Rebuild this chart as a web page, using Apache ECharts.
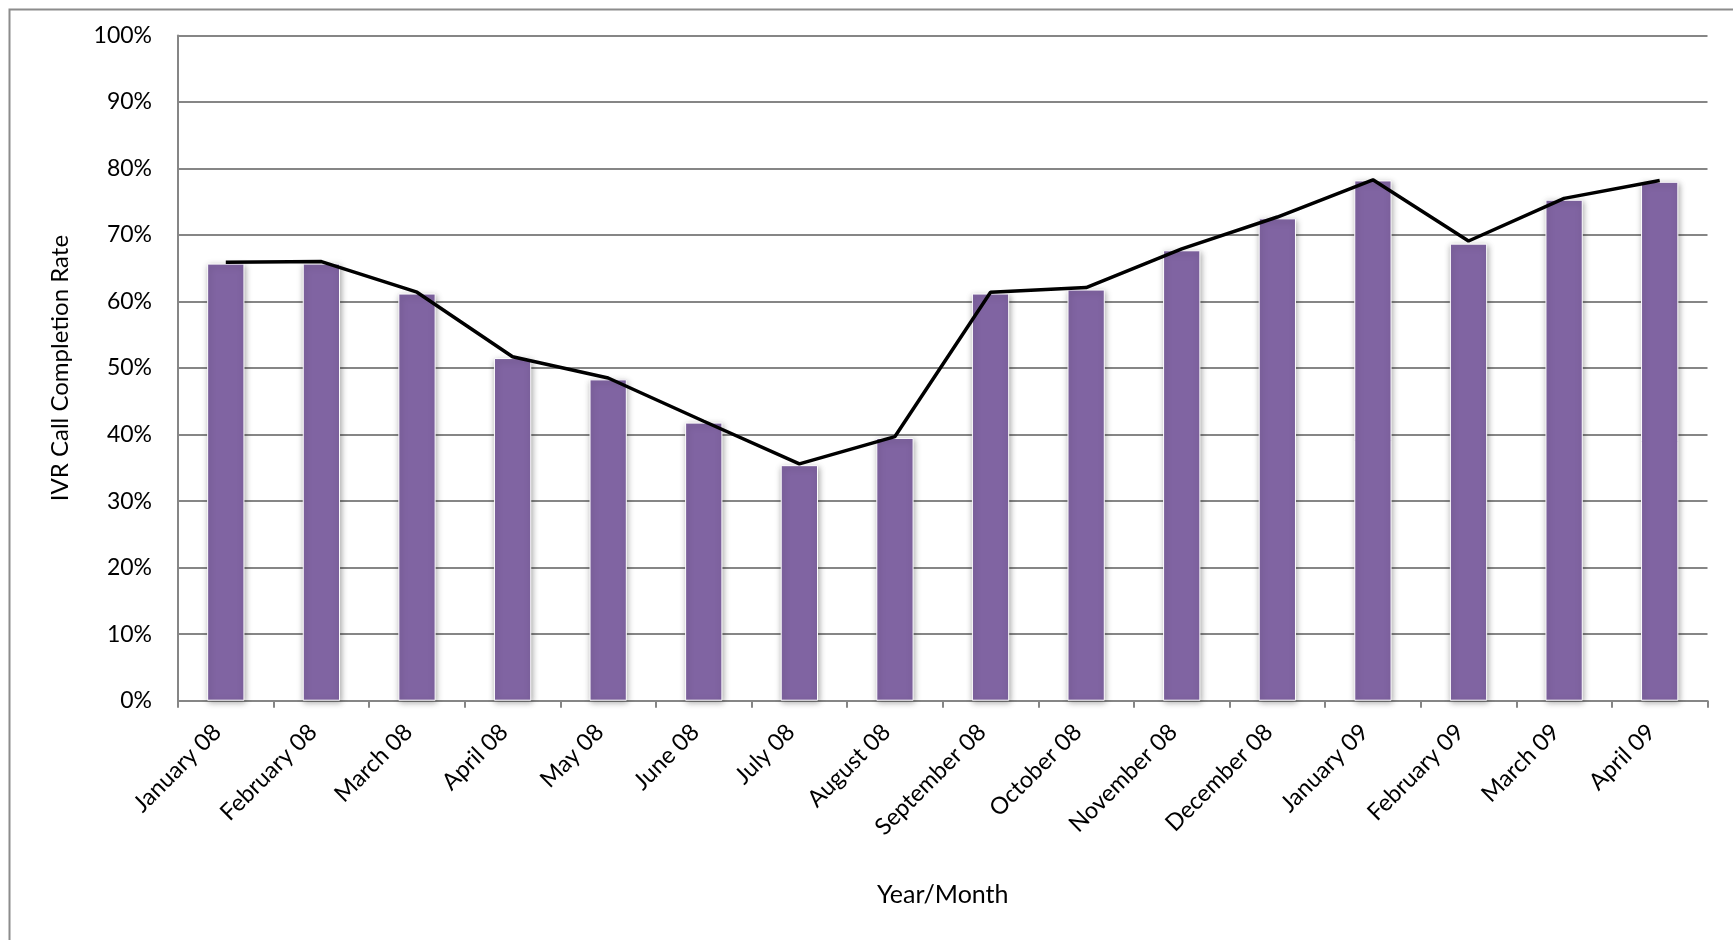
<!DOCTYPE html>
<html>
<head>
<meta charset="utf-8">
<title>IVR Call Completion Rate</title>
<script src="https://cdn.jsdelivr.net/npm/echarts@6/dist/echarts.min.js"></script>
<style>
  html, body { margin: 0; padding: 0; background: #fff; }
  #chart { width: 1733px; height: 940px; }
</style>
</head>
<body>
<div id="chart"></div>
<script>
// Months shown on the category axis
const months = [
  'January 08', 'February 08', 'March 08', 'April 08', 'May 08', 'June 08',
  'July 08', 'August 08', 'September 08', 'October 08', 'November 08', 'December 08',
  'January 09', 'February 09', 'March 09', 'April 09'
];

// Monthly completion rate (%) drawn as columns
const completionRate = [
  65.7, 65.7, 61.2, 51.5, 48.3, 41.8, 35.4, 39.5,
  61.2, 61.8, 67.7, 72.5, 78.2, 68.7, 75.3, 78.0
];

// Trend line (%) drawn over the columns
const trendRate = [
  65.9, 66.0, 61.4, 51.7, 48.5, 42.0, 35.6, 39.7,
  61.4, 62.1, 67.9, 72.7, 78.3, 69.1, 75.5, 78.2
];

// Value axis ticks (%)
const yTicks = { min: 0, max: 100, interval: 10 };

const FONT = 'Lato, "Open Sans", sans-serif';

const chart = echarts.init(document.getElementById('chart'), null, { renderer: 'canvas' });

chart.setOption({
  backgroundColor: '#ffffff',
  animation: false,
  graphic: [{
    type: 'rect',
    left: 7, top: 7,
    shape: { width: 3000, height: 3000 },
    style: { fill: 'none', stroke: '#8c8c8c', lineWidth: 2 },
    silent: true
  }],
  grid: { left: 178, right: 25.5, top: 35.4, bottom: 239.3 },
  xAxis: {
    type: 'category',
    data: months,
    boundaryGap: true,
    name: 'Year/Month',
    nameLocation: 'middle',
    nameGap: 182,
    nameTextStyle: { fontFamily: FONT, fontSize: 25, color: '#000' },
    axisLine: { lineStyle: { color: '#868686', width: 2 } },
    axisTick: { show: true, alignWithLabel: false, length: 7, lineStyle: { color: '#868686', width: 2 } },
    axisLabel: {
      interval: 0, rotate: 45, margin: 19,
      padding: [0, 12, 0, 0],
      fontFamily: FONT, fontSize: 23.5, color: '#000'
    },
    splitLine: { show: false }
  },
  yAxis: {
    type: 'value',
    min: yTicks.min, max: yTicks.max, interval: yTicks.interval,
    name: 'IVR Call Completion Rate',
    nameLocation: 'middle',
    nameGap: 106,
    nameTextStyle: { fontFamily: FONT, fontSize: 24, color: '#000' },
    axisLine: { show: true, lineStyle: { color: '#868686', width: 2 } },
    axisTick: { show: false },
    axisLabel: {
      margin: 26, fontFamily: FONT, fontSize: 23, color: '#000',
      formatter: '{value}%'
    },
    splitLine: { show: true, lineStyle: { color: '#868686', width: 2 } }
  },
  series: [
    {
      name: 'Completion Rate',
      type: 'bar',
      data: completionRate,
      barWidth: '39%',
      itemStyle: {
        color: '#8064a2',
        borderColor: '#ffffff',
        borderWidth: 1,
        shadowColor: 'rgba(0,0,0,0.35)',
        shadowBlur: 6,
        shadowOffsetX: 1,
        shadowOffsetY: 2
      },
      z: 2
    },
    {
      name: 'Trend',
      type: 'line',
      data: trendRate,
      symbol: 'none',
      lineStyle: { color: '#000000', width: 3.5 },
      z: 3
    }
  ]
});
</script>
</body>
</html>
